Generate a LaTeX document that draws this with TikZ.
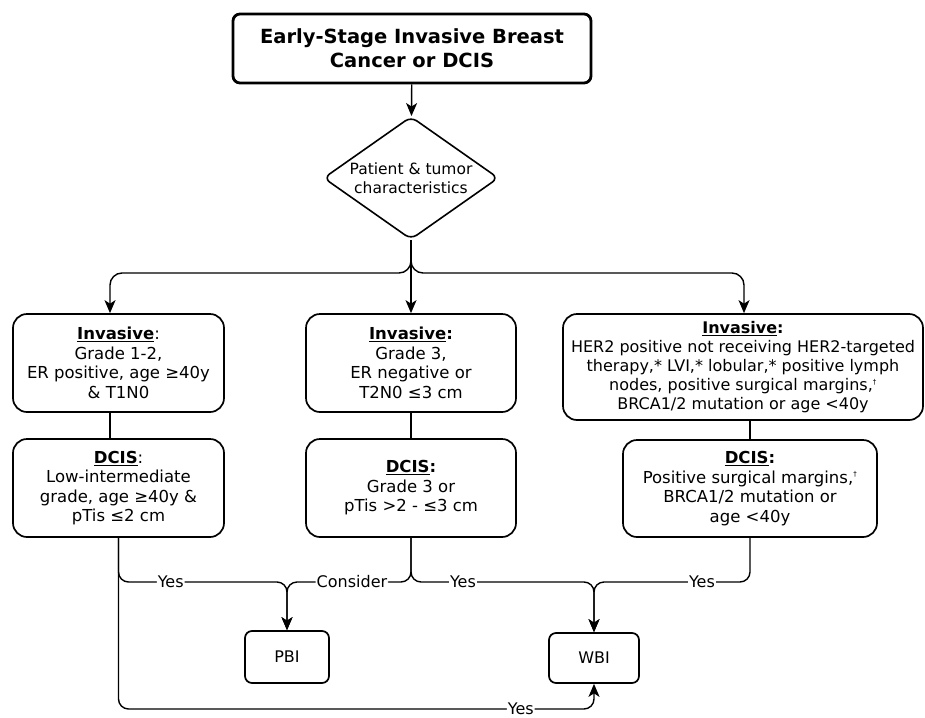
\documentclass[tikz,border=0pt]{standalone}
\usepackage{fontspec}
\setmainfont{DejaVu Sans}
\usetikzlibrary{shapes.geometric,arrows.meta}

\begin{document}
\begin{tikzpicture}[x=1pt, y=-1pt, line width=1.4pt,
  box/.style={draw, rounded corners=14pt, align=center, inner sep=2pt, line width=1.7pt, font=\fontsize{16.5}{19.5}\selectfont},
  titlebox/.style={box, rounded corners=7pt, line width=2.8pt, font=\fontsize{19.5}{24}\selectfont\bfseries},
  decision/.style={draw, diamond, aspect=1.42, inner sep=0pt, rounded corners=7pt, minimum width=175pt, minimum height=123pt, align=center, line width=1.6pt, font=\fontsize{15.5}{19}\selectfont},
  endbox/.style={box, rounded corners=7pt, font=\fontsize{16}{19}\selectfont},
  lbl/.style={fill=white, inner sep=1pt, font=\fontsize{16}{19}\selectfont},
  arr/.style={-{Stealth[length=13pt, width=11pt, inset=3.5pt]}}]
\useasboundingbox (0,0) rectangle (925,717);

\node[titlebox, minimum width=358pt, minimum height=69pt] (title) at (412,48.5) {Early-Stage Invasive Breast\\Cancer or DCIS};
\node[decision] (pt) at (411,178) {Patient \& tumor\\characteristics};

\node[box, minimum width=211pt, minimum height=98pt] (inv1) at (118.5,363) {\underline{\textbf{Invasive}}:\\Grade 1-2,\\ER positive, age ≥40y\\\& T1N0};
\node[box, minimum width=210pt, minimum height=98pt] (inv2) at (411,363) {\underline{\textbf{Invasive}}\textbf{:}\\Grade 3,\\ER negative or\\T2N0 ≤3 cm};
\node[box, minimum width=360pt, minimum height=106pt, font=\fontsize{16}{19}\selectfont] (inv3) at (743,367) {\underline{\textbf{Invasive}}\textbf{:}\\HER2 positive not receiving HER2-targeted\\therapy,* LVI,* lobular,* positive lymph\\nodes, positive surgical margins,\textsuperscript{\scriptsize †}\\BRCA1/2 mutation or age <40y};

\node[box, minimum width=211pt, minimum height=98pt] (dcis1) at (118.5,488) {\underline{\textbf{DCIS}}:\\Low-intermediate\\grade, age ≥40y \&\\pTis ≤2 cm};
\node[box, minimum width=210pt, minimum height=98pt] (dcis2) at (411,488) {\underline{\textbf{DCIS}}\textbf{:}\\Grade 3 or\\pTis >2 - ≤3 cm};
\node[box, minimum width=254pt, minimum height=97pt] (dcis3) at (750,488.5) {\underline{\textbf{DCIS}}\textbf{:}\\Positive surgical margins,\textsuperscript{\scriptsize †}\\BRCA1/2 mutation or\\age <40y};

\node[endbox, minimum width=84pt, minimum height=52pt] (pbi) at (287,657) {PBI};
\node[endbox, minimum width=90pt, minimum height=50pt] (wbi) at (594,658) {WBI};

\coordinate (j1) at (110,273);
\coordinate (j3) at (744,273);
\coordinate (k1) at (287,582);
\coordinate (k2) at (594,582);
\coordinate (k0) at (594,709);

\draw[arr] (title) -- (pt);
\draw[arr, rounded corners=12pt] (pt.south) |- (j1) -- (j1 |- inv1.north);
\draw[arr] (pt.south) -- (inv2);
\draw[arr, rounded corners=12pt] (pt.south) |- (j3) -- (j3 |- inv3.north);

\draw (j1 |- inv1.south) -- (j1 |- dcis1.north);
\draw (inv2) -- (dcis2);
\draw (dcis3.north |- inv3.south) -- (dcis3);

\draw[arr, rounded corners=10pt] (dcis1.south) |- node[lbl, pos=0.655] {Yes} (k1) -- (pbi);
\draw[arr, rounded corners=10pt] (dcis2.south) |- node[lbl, pos=0.738] {Consider} (k1) -- (pbi);
\draw[arr, rounded corners=10pt] (dcis2.south) |- node[lbl, pos=0.642] {Yes} (k2) -- (wbi);
\draw[arr, rounded corners=10pt] (dcis3.south) |- node[lbl, pos=0.654] {Yes} (k2) -- (wbi);
\draw[arr, rounded corners=10pt] (dcis1.south) |- node[lbl, pos=0.923] {Yes} (k0) -- (wbi);
\end{tikzpicture}
\end{document}
